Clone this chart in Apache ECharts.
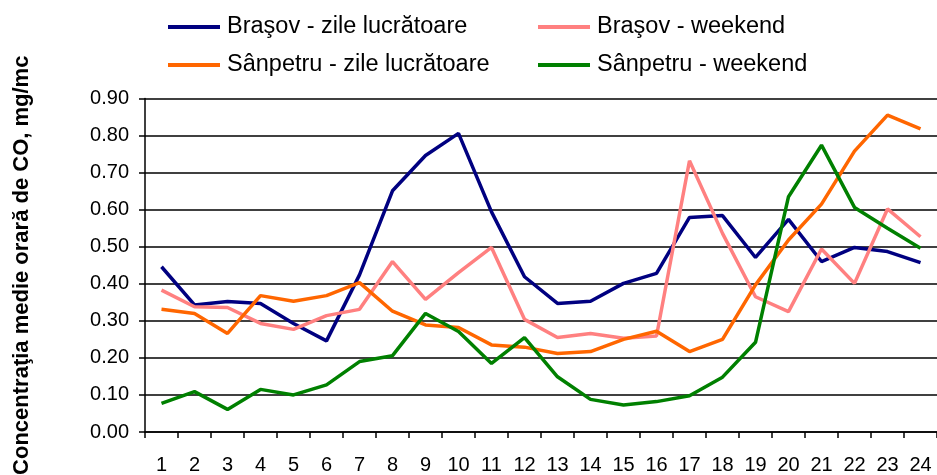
<!DOCTYPE html>
<html>
<head>
<meta charset="utf-8">
<script src="https://cdn.jsdelivr.net/npm/echarts@6/dist/echarts.min.js"></script>
<style>
  html, body { margin: 0; padding: 0; background: #fff; }
  #chart { width: 937px; height: 475px; }
</style>
</head>
<body>
<div id="chart"></div>
<script>
// ore 1..24
var hours = ['1', '2', '3', '4', '5', '6', '7', '8', '9', '10', '11', '12',
  '13', '14', '15', '16', '17', '18', '19', '20', '21', '22', '23', '24'];

var seriesNames = ['Braşov - zile lucrătoare', 'Braşov - weekend',
  'Sânpetru - zile lucrătoare', 'Sânpetru - weekend'];

// concentratii CO, mg/mc
var brasovZile = [0.446, 0.343, 0.352, 0.347, 0.293, 0.246, 0.424, 0.651, 0.746, 0.806, 0.594, 0.419,
  0.347, 0.353, 0.401, 0.428, 0.579, 0.584, 0.471, 0.574, 0.460, 0.498, 0.487, 0.457];
var brasovWeekend = [0.383, 0.338, 0.336, 0.293, 0.277, 0.314, 0.331, 0.460, 0.358, 0.430, 0.498, 0.304,
  0.255, 0.266, 0.253, 0.259, 0.732, 0.536, 0.365, 0.325, 0.494, 0.401, 0.602, 0.527];
var sanpetruZile = [0.331, 0.320, 0.266, 0.368, 0.353, 0.368, 0.403, 0.326, 0.289, 0.282, 0.235, 0.229,
  0.212, 0.217, 0.250, 0.272, 0.217, 0.250, 0.397, 0.518, 0.615, 0.758, 0.855, 0.818];
var sanpetruWeekend = [0.077, 0.109, 0.061, 0.115, 0.100, 0.127, 0.190, 0.206, 0.320, 0.271, 0.185, 0.255,
  0.149, 0.088, 0.073, 0.082, 0.098, 0.148, 0.242, 0.635, 0.774, 0.606, 0.550, 0.496];

var colors = ['#000080', '#ff8080', '#ff6600', '#008000'];
var font = 'Liberation Sans, Arial, sans-serif';

var myChart = echarts.init(document.getElementById('chart'));

function line(name, data, color) {
  return {
    name: name,
    type: 'line',
    data: data,
    symbol: 'none',
    lineStyle: { color: color, width: 3.5 },
    itemStyle: { color: color },
    emphasis: { disabled: true }
  };
}

var legendBase = {
  orient: 'vertical',
  top: 10,
  icon: 'rect',
  itemWidth: 52,
  itemHeight: 4,
  itemGap: 14,
  textStyle: { fontFamily: font, fontSize: 23.5, color: '#000', padding: [0, 0, 0, 2] }
};

var option = {
  animation: false,
  color: colors,
  textStyle: { fontFamily: font },
  legend: [
    Object.assign({}, legendBase, { left: 163, data: [seriesNames[0], seriesNames[2]] }),
    Object.assign({}, legendBase, { left: 533, data: [seriesNames[1], seriesNames[3]] })
  ],
  grid: { left: 145, right: 0, top: 98.5, bottom: 43, outerBoundsMode: 'none' },
  xAxis: {
    type: 'category',
    data: hours,
    boundaryGap: true,
    axisLine: { lineStyle: { color: '#000', width: 1.5 } },
    axisTick: { show: true, length: 6, lineStyle: { color: '#000', width: 1.5 } },
    axisLabel: { color: '#000', fontSize: 20, fontFamily: font, margin: 23, interval: 0 },
    splitLine: { show: false }
  },
  yAxis: {
    type: 'value',
    min: 0,
    max: 0.9,
    interval: 0.1,
    name: 'Concentraţia medie orară de CO, mg/mc',
    nameLocation: 'middle',
    nameGap: 112,
    nameTextStyle: { fontFamily: font, fontSize: 22, fontWeight: 'bold', color: '#000' },
    axisLine: { show: true, lineStyle: { color: '#000', width: 1.5 } },
    axisTick: { show: true, length: 6, lineStyle: { color: '#000', width: 1.5 } },
    axisLabel: {
      color: '#000', fontSize: 20, fontFamily: font, margin: 16,
      formatter: function (v) { return v.toFixed(2); }
    },
    splitLine: { lineStyle: { color: '#000', width: 1.5 } }
  },
  series: [
    line(seriesNames[0], brasovZile, colors[0]),
    line(seriesNames[1], brasovWeekend, colors[1]),
    line(seriesNames[2], sanpetruZile, colors[2]),
    line(seriesNames[3], sanpetruWeekend, colors[3])
  ]
};

myChart.setOption(option);
</script>
</body>
</html>
